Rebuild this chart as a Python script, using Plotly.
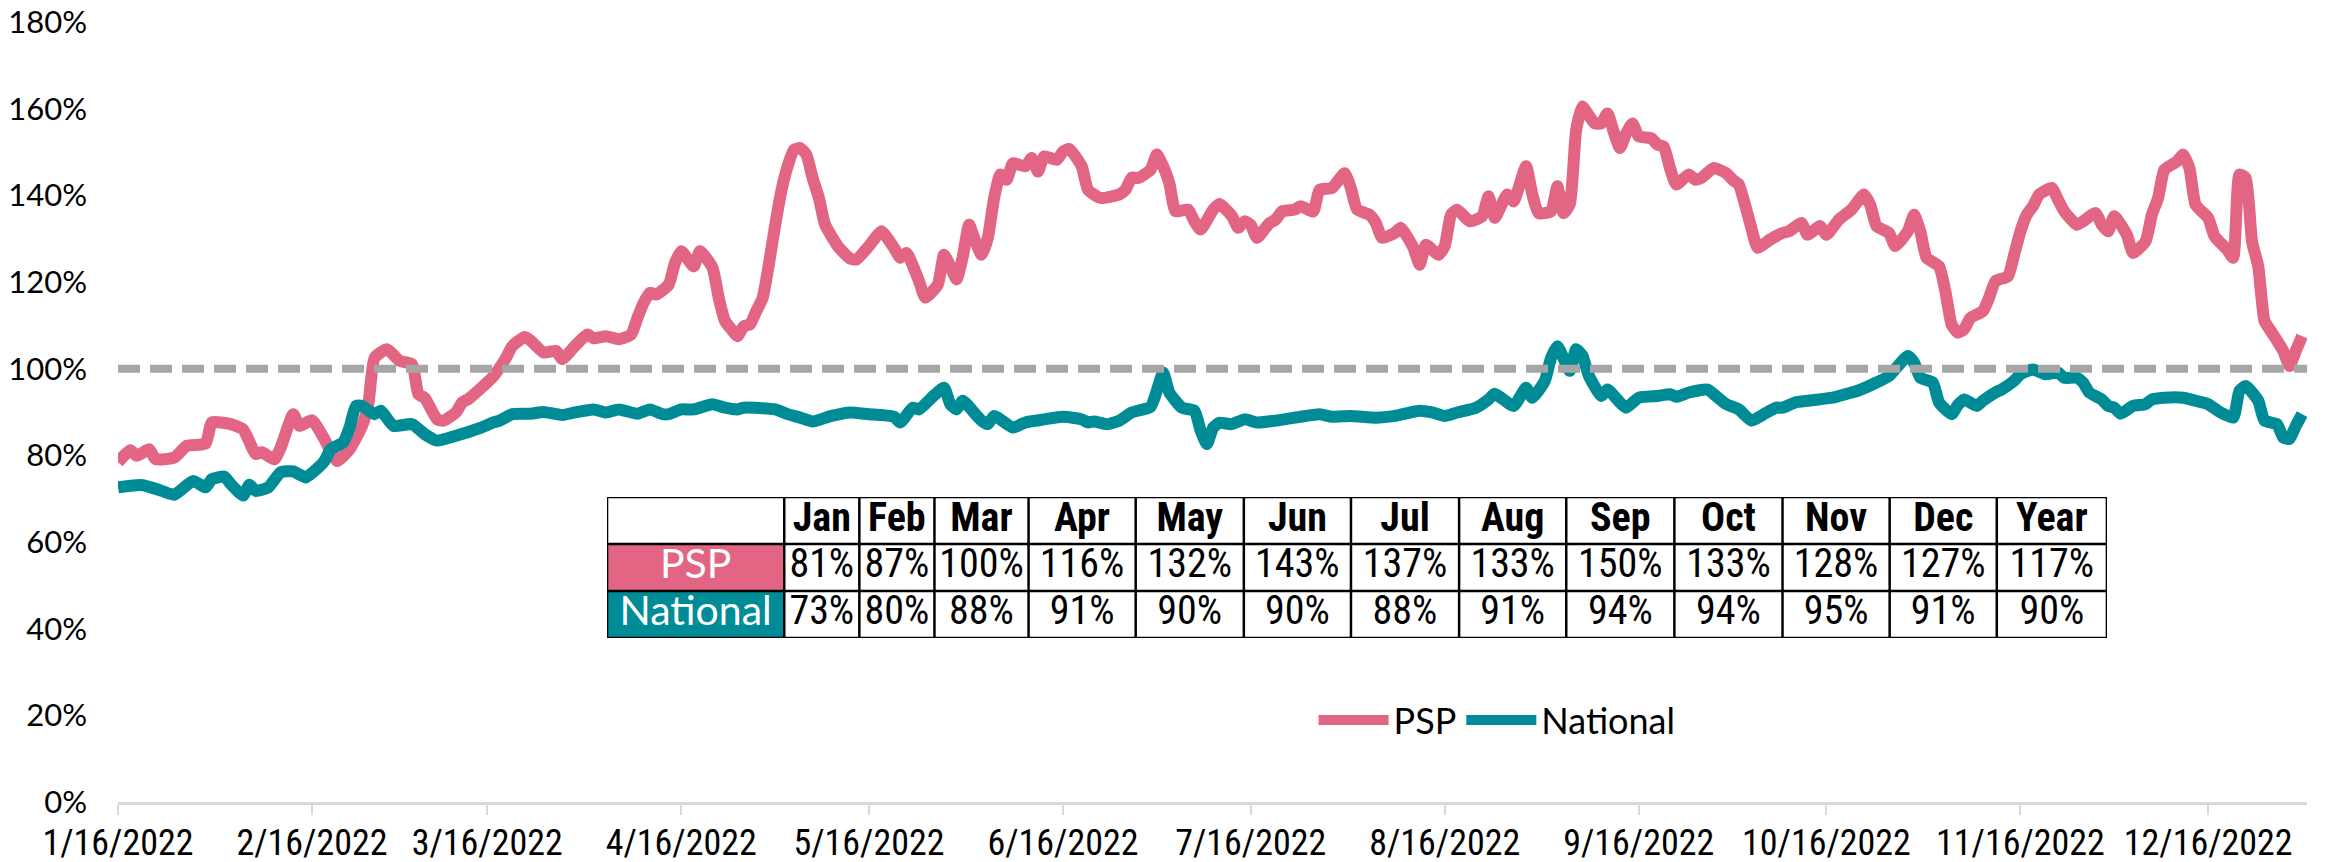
"""PSP vs National occupancy index, daily 2022, with monthly summary table."""
import numpy as np
import pandas as pd
import plotly.graph_objects as go

START = "2022-01-16"

# PSP daily index (days since 1/16/2022, percent)
psp_day = [0, 2, 3, 5, 6, 9, 11, 14, 15, 18, 20, 22, 23, 25, 26, 28, 29, 31, 33, 35,
           37, 39, 40, 41, 43, 45, 47, 48, 49, 51, 52, 54, 55, 56, 58, 60, 62, 63, 65, 66,
           68, 70, 71, 73, 75, 76, 78, 80, 82, 83, 84, 85, 86, 88, 89, 90, 92, 93, 95, 96,
           97, 98, 99, 100, 101, 102, 103, 104, 105, 106, 107, 108, 109, 110, 111, 112, 113, 115, 116, 117,
           118, 120, 121, 122, 124, 125, 126, 128, 129, 131, 132, 133, 134, 135, 136, 137, 138, 139, 140, 141,
           142, 143, 145, 146, 147, 148, 150, 151, 152, 154, 155, 157, 160, 161, 162, 163, 165, 166, 167, 168,
           169, 171, 172, 173, 175, 176, 178, 179, 180, 181, 182, 184, 185, 186, 188, 189, 191, 192, 194, 196,
           197, 198, 200, 201, 202, 204, 205, 207, 208, 209, 211, 212, 213, 214, 216, 218, 219, 220, 222, 223,
           225, 226, 227, 229, 230, 231, 232, 233, 234, 235, 236, 237, 238, 239, 240, 241, 242, 243, 245, 246,
           247, 248, 249, 251, 252, 253, 255, 257, 258, 259, 260, 261, 262, 264, 266, 267, 269, 270, 272, 273,
           275, 277, 279, 280, 281, 283, 284, 286, 287, 288, 289, 291, 292, 293, 294, 295, 296, 298, 299, 300,
           302, 303, 304, 305, 306, 307, 309, 310, 311, 313, 314, 316, 317, 318, 319, 321, 322, 324, 325, 326,
           327, 329, 330, 331, 332, 334, 335, 337, 338, 339, 340, 341, 342, 343, 344, 346, 347, 348, 349]
psp_pct = [78.4, 81.2, 79.9, 81.4, 79.1, 79.5, 82.2, 82.7, 87.6, 87.2, 86.0, 80.3, 80.7, 79.1, 81.8, 89.5, 86.8, 88.1, 83.7, 78.7,
           81.4, 86.8, 91.8, 102.5, 104.5, 101.8, 101.0, 94.1, 93.3, 88.3, 88.0, 89.9, 92.2, 93.0, 95.5, 98.3, 102.5, 105.2, 107.3, 106.4,
           103.7, 104.1, 102.2, 105.2, 107.9, 107.0, 107.5, 106.8, 107.9, 111.7, 115.2, 117.5, 117.1, 119.4, 124.4, 127.1, 123.6, 127.1, 123.3, 116.3,
           111.0, 109.1, 107.5, 109.8, 110.2, 113.3, 116.3, 124.0, 133.0, 141.0, 146.7, 150.5, 150.9, 149.4, 144.0, 139.4, 133.2, 128.3, 126.7, 125.4,
           125.2, 128.3, 130.2, 131.7, 127.9, 125.6, 126.7, 120.2, 116.4, 119.4, 126.3, 123.6, 120.6, 125.9, 133.2, 129.4, 126.3, 130.2, 139.4, 144.8,
           143.6, 147.4, 146.7, 148.6, 145.5, 149.0, 148.2, 150.1, 150.7, 146.7, 141.3, 139.4, 140.2, 141.3, 144.1, 144.0, 145.9, 149.4, 146.7, 142.8,
           136.3, 136.7, 134.0, 132.1, 136.7, 138.0, 135.2, 132.5, 134.0, 133.2, 130.2, 133.6, 134.4, 136.3, 136.7, 137.5, 136.3, 141.3, 141.7, 145.1,
           141.7, 136.7, 135.5, 133.6, 130.2, 131.3, 132.5, 127.9, 124.0, 128.6, 126.3, 128.3, 135.5, 136.7, 134.0, 135.2, 139.8, 134.8, 140.2, 138.6,
           146.7, 140.2, 135.9, 136.3, 142.1, 135.9, 138.0, 155.0, 160.5, 158.5, 156.6, 156.6, 158.9, 154.7, 150.9, 154.3, 156.6, 153.6, 153.2, 151.7,
           151.3, 146.3, 142.5, 144.8, 143.6, 144.0, 146.3, 145.1, 143.6, 142.5, 137.8, 132.5, 127.9, 129.8, 131.3, 131.7, 133.6, 130.9, 132.9, 130.9,
           134.4, 136.7, 140.2, 137.8, 132.9, 131.3, 128.3, 131.7, 135.5, 131.7, 125.6, 123.6, 117.9, 110.2, 108.3, 109.1, 111.7, 113.3, 116.4, 120.2,
           121.3, 126.3, 131.7, 135.5, 137.5, 140.2, 141.7, 139.0, 136.3, 133.2, 134.0, 135.9, 133.2, 131.7, 135.2, 130.9, 126.7, 129.4, 135.5, 139.4,
           145.9, 147.8, 149.4, 146.3, 137.8, 134.8, 130.6, 127.5, 125.6, 144.8, 144.0, 129.4, 123.6, 111.0, 108.7, 104.1, 100.6, 104.1, 107.5]

# National daily index (days since 1/16/2022, percent)
nat_day = [0, 2, 4, 7, 9, 12, 14, 15, 17, 18, 20, 21, 22, 24, 26, 28, 30, 32, 33, 34,
           36, 37, 38, 39, 41, 42, 44, 47, 49, 51, 54, 58, 60, 61, 63, 66, 68, 71, 73, 76,
           78, 80, 83, 85, 87, 88, 90, 92, 95, 97, 99, 100, 105, 107, 109, 111, 114, 117, 120, 122,
           124, 125, 127, 128, 130, 132, 133, 134, 135, 137, 138, 139, 140, 143, 145, 148, 151, 154, 155, 156,
           158, 160, 162, 165, 166, 167, 168, 170, 172, 173, 174, 175, 176, 178, 180, 182, 185, 188, 192, 194,
           197, 201, 204, 208, 210, 212, 214, 217, 219, 220, 223, 225, 226, 228, 229, 230, 232, 233, 234, 235,
           237, 238, 240, 241, 243, 246, 248, 249, 251, 254, 255, 257, 259, 261, 263, 265, 266, 268, 270, 274,
           276, 278, 281, 283, 286, 287, 288, 290, 291, 293, 294, 295, 297, 298, 300, 301, 303, 304, 306, 308,
           310, 311, 313, 314, 315, 317, 318, 319, 320, 322, 324, 325, 327, 330, 332, 334, 336, 338, 339, 340,
           342, 343, 345, 346, 347, 348, 349]
nat_pct = [72.6, 73.0, 73.1, 71.8, 70.9, 74.1, 72.6, 74.5, 75.1, 73.4, 70.7, 73.2, 71.8, 72.6, 76.1, 76.3, 74.9, 77.2, 78.7, 81.4,
           83.0, 86.4, 91.4, 91.4, 89.5, 90.3, 86.8, 87.2, 84.9, 83.4, 84.5, 86.4, 87.6, 88.0, 89.5, 89.6, 90.0, 89.3, 89.9, 90.6,
           89.9, 90.6, 89.6, 90.6, 89.5, 89.5, 90.6, 90.6, 91.8, 91.0, 90.6, 91.0, 90.6, 89.5, 88.7, 87.8, 89.1, 89.9, 89.5, 89.3,
           88.9, 87.6, 91.0, 90.6, 93.3, 95.6, 91.8, 90.6, 92.6, 89.5, 88.0, 87.2, 89.1, 86.4, 87.6, 88.3, 88.9, 88.3, 87.6, 87.8,
           87.2, 88.0, 89.9, 91.2, 94.9, 99.1, 94.5, 91.0, 90.3, 85.7, 82.6, 86.4, 87.5, 87.2, 88.3, 87.6, 88.0, 88.7, 89.5, 88.9,
           89.1, 88.7, 89.1, 90.3, 89.9, 89.1, 89.9, 91.0, 92.9, 94.2, 91.4, 95.6, 93.3, 97.2, 102.5, 105.2, 99.5, 104.5, 103.0, 98.5,
           93.7, 95.2, 92.2, 91.0, 93.3, 93.7, 94.1, 93.5, 94.5, 95.2, 94.1, 91.8, 90.6, 88.0, 89.5, 91.0, 91.0, 92.2, 92.6, 93.3,
           94.1, 94.9, 96.8, 98.3, 102.9, 101.4, 97.9, 96.8, 92.2, 89.5, 91.6, 92.9, 91.4, 92.6, 94.5, 95.2, 97.2, 98.7, 99.8, 98.7,
           99.1, 97.9, 97.9, 96.8, 94.5, 92.9, 91.4, 91.0, 89.6, 91.4, 91.8, 92.9, 93.3, 93.3, 92.6, 91.8, 89.9, 88.7, 94.9, 96.0,
           92.6, 88.0, 87.2, 84.1, 83.8, 86.8, 89.5]

# monthly summary table
months = ["Jan", "Feb", "Mar", "Apr", "May", "Jun", "Jul", "Aug", "Sep", "Oct", "Nov", "Dec", "Year"]
psp_month = ["81%", "87%", "100%", "116%", "132%", "143%", "137%", "133%", "150%", "133%", "128%", "127%", "117%"]
nat_month = ["73%", "80%", "88%", "91%", "90%", "90%", "88%", "91%", "94%", "94%", "95%", "91%", "90%"]
row_names = ["PSP", "National"]

PSP_COLOR = "#E26584"
NAT_COLOR = "#008C96"
FONT = "Lato"
NARROW = "Liberation Sans Narrow, Arial Narrow, Roboto Condensed, Lato"

# table column widths (relative units, label column first)
COL_W = [177, 75, 75, 94, 107, 108, 107, 108, 107, 108, 108, 107, 107, 110]

start = pd.Timestamp(START)
psp_dates = start + pd.to_timedelta(psp_day, unit="D")
nat_dates = start + pd.to_timedelta(nat_day, unit="D")

fig = go.Figure()

fig.add_trace(go.Scatter(
    x=psp_dates, y=psp_pct, name="PSP", mode="lines",
    line=dict(color=PSP_COLOR, width=12, shape="spline", smoothing=0.5),
))
fig.add_trace(go.Scatter(
    x=nat_dates, y=nat_pct, name="National", mode="lines",
    line=dict(color=NAT_COLOR, width=12, shape="spline", smoothing=0.5),
))

# 100% reference line
fig.add_hline(y=100, line=dict(color="#A6A6A6", width=8, dash="22px,10px"), layer="above")

# --- summary table, drawn on its own hidden axes (x: width units, y: rows) ---
edges = np.concatenate([[0], np.cumsum(COL_W)])
centers = (edges[:-1] + edges[1:]) / 2
n_rows = 3

# coloured label cells
for r, color in enumerate([PSP_COLOR, NAT_COLOR], start=1):
    x0, x1 = edges[0], edges[1]
    fig.add_trace(go.Scatter(
        x=[x0, x1, x1, x0, x0], y=[r, r, r + 1, r + 1, r],
        mode="lines", fill="toself", fillcolor=color, line=dict(width=0),
        xaxis="x2", yaxis="y2", showlegend=False, hoverinfo="skip",
    ))

# grid lines
gx, gy = [], []
for e in edges:
    gx += [e, e, None]
    gy += [0, n_rows, None]
for r in range(n_rows + 1):
    gx += [edges[0], edges[-1], None]
    gy += [r, r, None]
fig.add_trace(go.Scatter(
    x=gx, y=gy, mode="lines", line=dict(color="black", width=2.5),
    xaxis="x2", yaxis="y2", showlegend=False, hoverinfo="skip",
))

# header text
fig.add_trace(go.Scatter(
    x=centers[1:], y=[0.5] * len(months), mode="text",
    text=["<b>" + m + "</b>" for m in months],
    textfont=dict(family=NARROW, size=40, color="black"),
    xaxis="x2", yaxis="y2", showlegend=False, hoverinfo="skip",
))
# row labels
fig.add_trace(go.Scatter(
    x=[centers[0]] * 2, y=[1.5, 2.5], mode="text", text=row_names,
    textfont=dict(family=FONT, size=41, color="white"),
    xaxis="x2", yaxis="y2", showlegend=False, hoverinfo="skip",
))
# values
for r, vals in zip([1.5, 2.5], [psp_month, nat_month]):
    fig.add_trace(go.Scatter(
        x=centers[1:], y=[r] * len(vals), mode="text", text=vals,
        textfont=dict(family=NARROW, size=40, color="black"),
        xaxis="x2", yaxis="y2", showlegend=False, hoverinfo="skip",
    ))

fig.update_layout(
    width=2312,
    height=854,
    margin=dict(l=110, r=13, t=14, b=60),
    paper_bgcolor="white",
    plot_bgcolor="white",
    font=dict(family=FONT, size=30, color="black"),
    showlegend=True,
    legend=dict(
        orientation="h", x=0.63, xanchor="center", y=0.105, yanchor="middle",
        font=dict(size=36), bgcolor="rgba(0,0,0,0)", itemwidth=70,
    ),
    xaxis=dict(
        type="date",
        domain=[0, 1],
        range=["2022-01-16", "2022-12-31 19:00"],
        tick0="2022-01-16",
        dtick="M1",
        tickformat="%-m/%-d/%Y",
        tickangle=0,
        ticks="outside",
        ticklen=10,
        tickwidth=2,
        tickcolor="#D9D9D9",
        showline=True,
        linecolor="#D9D9D9",
        linewidth=2.5,
        showgrid=False,
        zeroline=False,
        automargin=False,
        ticklabelstandoff=-3,
        ticklabeloverflow="allow",
        tickfont=dict(family=NARROW, size=36),
    ),
    yaxis=dict(
        domain=[0, 1],
        range=[0, 180],
        dtick=20,
        ticksuffix="%",
        showgrid=False,
        zeroline=False,
        showline=False,
        automargin=False,
        ticklabelstandoff=30,
        ticklabeloverflow="allow",
        tickfont=dict(size=31),
    ),
    xaxis2=dict(
        domain=[0.2234, 0.9086], range=[edges[0], edges[-1]],
        visible=False, anchor="y2", fixedrange=True,
    ),
    yaxis2=dict(
        domain=[0.2103, 0.3910], range=[n_rows, 0],
        visible=False, anchor="x2", fixedrange=True,
    ),
)

fig.write_html("out.html")
